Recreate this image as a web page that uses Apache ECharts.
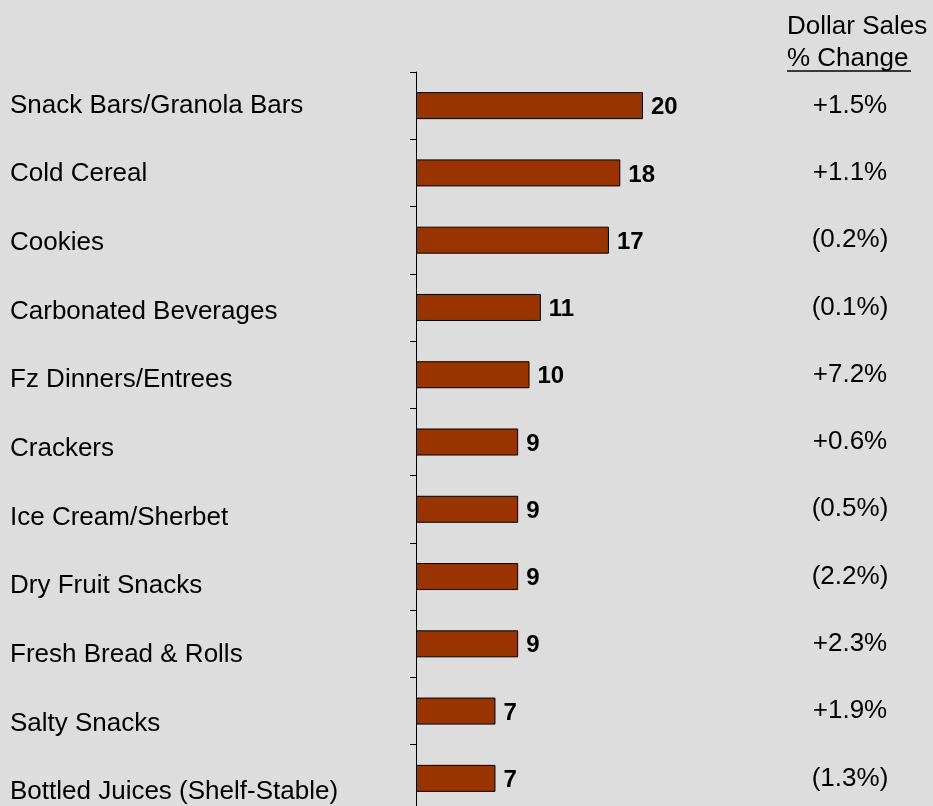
<!DOCTYPE html>
<html>
<head>
<meta charset="utf-8">
<script src="https://cdn.jsdelivr.net/npm/echarts@6/dist/echarts.min.js"></script>
<style>
  html, body { margin: 0; padding: 0; background: #dddddd; }
  #chart { width: 933px; height: 806px; }
</style>
</head>
<body>
<div id="chart"></div>
<script>
// Top categories, units shown next to each bar, plus dollar sales % change
const categories = [
  'Snack Bars/Granola Bars',
  'Cold Cereal',
  'Cookies',
  'Carbonated Beverages',
  'Fz Dinners/Entrees',
  'Crackers',
  'Ice Cream/Sherbet',
  'Dry Fruit Snacks',
  'Fresh Bread & Rolls',
  'Salty Snacks',
  'Bottled Juices (Shelf-Stable)'
];
const values = [20, 18, 17, 11, 10, 9, 9, 9, 9, 7, 7];
const pctChange = ['+1.5%', '+1.1%', '(0.2%)', '(0.1%)', '+7.2%', '+0.6%', '(0.5%)', '(2.2%)', '+2.3%', '+1.9%', '(1.3%)'];
const headerLines = ['Dollar Sales', '% Change'];

const FONT = '"Liberation Sans", Arial, Helvetica, sans-serif';
const chart = echarts.init(document.getElementById('chart'), null, { renderer: 'canvas' });

chart.setOption({
  backgroundColor: '#dddddd',
  animation: false,
  grid: [
    // bars (the plot runs past the bottom edge of the page)
    { left: 416, top: 72, width: 454, height: 740, outerBoundsMode: 'none', containLabel: false },
    // category names column
    { left: 10, top: 71, width: 380, height: 755.6, outerBoundsMode: 'none', containLabel: false }
  ],
  xAxis: [
    { gridIndex: 0, type: 'value', min: 0, max: 40, show: false },
    { gridIndex: 1, type: 'value', min: 0, max: 1, show: false }
  ],
  yAxis: [
    {
      gridIndex: 0,
      type: 'category',
      inverse: true,
      data: categories,
      axisLine: { show: true, lineStyle: { color: '#000', width: 1 } },
      axisTick: { show: true, length: 6, lineStyle: { color: '#000', width: 1 } },
      axisLabel: { show: false },
      splitLine: { show: false }
    },
    {
      gridIndex: 0,
      type: 'category',
      inverse: true,
      position: 'right',
      offset: -20,
      data: pctChange,
      axisLine: { show: false },
      axisTick: { show: false },
      axisLabel: {
        margin: 0,
        align: 'center',
        color: '#000',
        fontSize: 26,
        fontFamily: FONT,
        padding: [4, 0, 0, 0]
      }
    },
    {
      gridIndex: 1,
      type: 'category',
      inverse: true,
      data: categories,
      axisLine: { show: false },
      axisTick: { show: false },
      axisLabel: {
        inside: true,
        margin: 0,
        align: 'left',
        color: '#000',
        fontSize: 26,
        fontFamily: FONT
      }
    }
  ],
  series: [
    {
      type: 'bar',
      xAxisIndex: 0,
      yAxisIndex: 0,
      data: values,
      barWidth: 27,
      itemStyle: { color: '#993300', borderColor: '#000', borderWidth: 1 },
      label: {
        show: true,
        position: 'right',
        distance: 8,
        offset: [0, 2],
        color: '#000',
        fontWeight: 'bold',
        fontSize: 24,
        fontFamily: FONT
      }
    }
  ],
  graphic: [
    {
      type: 'text',
      left: 787,
      top: 14,
      style: { text: headerLines[0], fill: '#000', font: '26px ' + FONT }
    },
    {
      type: 'text',
      left: 787,
      top: 46,
      style: { text: headerLines[1], fill: '#000', font: '26px ' + FONT }
    },
    {
      type: 'line',
      shape: { x1: 787, y1: 71, x2: 911, y2: 71 },
      style: { stroke: '#000', lineWidth: 1.5 }
    }
  ]
});
</script>
</body>
</html>
